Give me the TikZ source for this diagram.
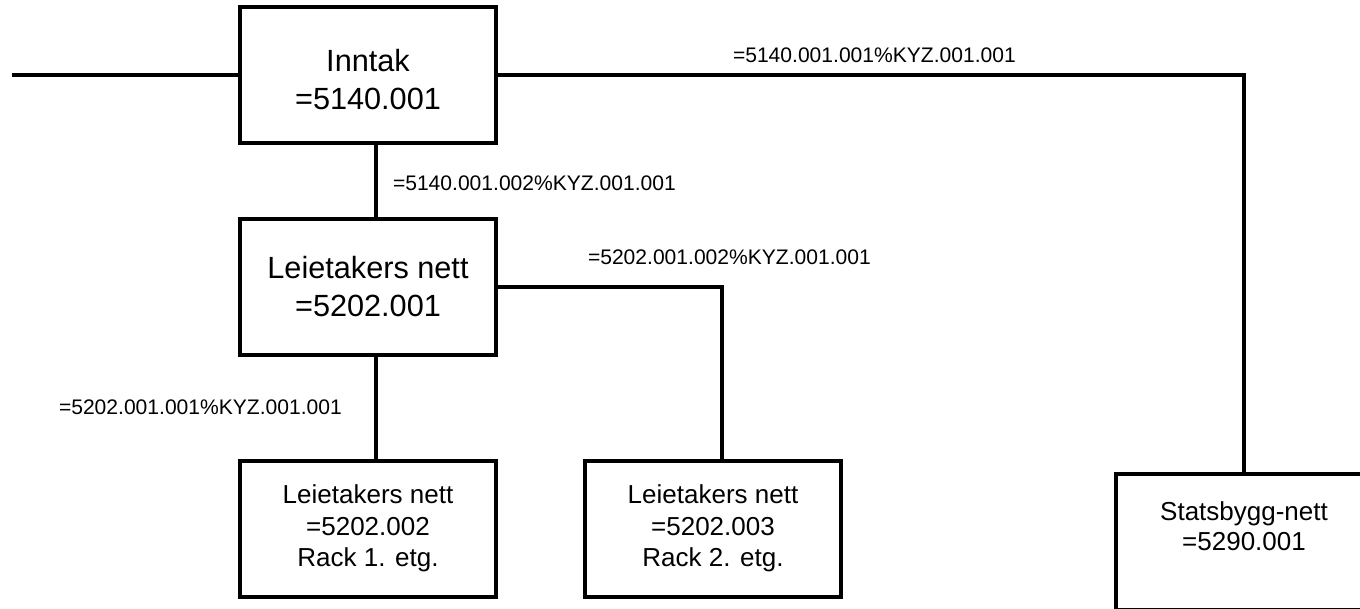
\documentclass[tikz,border=0pt]{standalone}
\usepackage{fontspec}
\setmainfont{Liberation Sans}
\usetikzlibrary{positioning}

\begin{document}
\begin{tikzpicture}[x=0.75pt, y=-0.75pt, line width=3pt,
    unitbox/.style={draw, minimum width=192pt, minimum height=102pt, inner sep=0pt, align=center},
    bigtext/.style={font=\fontsize{23}{28.5}\selectfont},
    smalltext/.style={font=\fontsize{19.5}{23.7}\selectfont},
    tag/.style={font=\fontsize{15.8}{19}\selectfont, anchor=west, inner sep=0pt}]

    \useasboundingbox (0,0) rectangle (1360,609);

    % boxes
    \node[unitbox, bigtext, text height=51.5pt] (inntak) at (368,75.5) {Inntak\\=5140.001};
    \node[unitbox, bigtext] (lnett) at (368,287) {Leietakers nett\\=5202.001};
    \node[unitbox, smalltext] (rack1) at (368,528.5) {Leietakers nett\\=5202.002\\Rack 1. etg.};
    \node[unitbox, smalltext] (rack2) at (713,528.5) {Leietakers nett\\=5202.003\\Rack 2. etg.};
    \node[unitbox] (sbnett) at (1244,542) {};
    \node[align=center, font=\fontsize{19.5}{22.5}\selectfont] (sbtext) at (1244,526) {Statsbygg-nett\\=5290.001};

    % feeder
    \coordinate (feed) at (12,75.5);

    % connectors
    \draw (feed) -- (inntak.west);
    \draw (inntak.east) -| (sbnett.north);
    \draw ([xshift=6pt]inntak.south) -- ([xshift=6pt]lnett.north);
    \draw (lnett.east) -| ([xshift=6.5pt]rack2.north);
    \draw ([xshift=6pt]lnett.south) -- ([xshift=6pt]rack1.north);

    % cable tags
    \node[tag] (tagsb) at (731,55) {=5140.001.001\%KYZ.001.001};
    \node[tag] (taglnett) at (391,183) {=5140.001.002\%KYZ.001.001};
    \node[tag] (tagrack2) at (586,257) {=5202.001.002\%KYZ.001.001};
    \node[tag] (tagrack1) at (57,407) {=5202.001.001\%KYZ.001.001};

\end{tikzpicture}
\end{document}
